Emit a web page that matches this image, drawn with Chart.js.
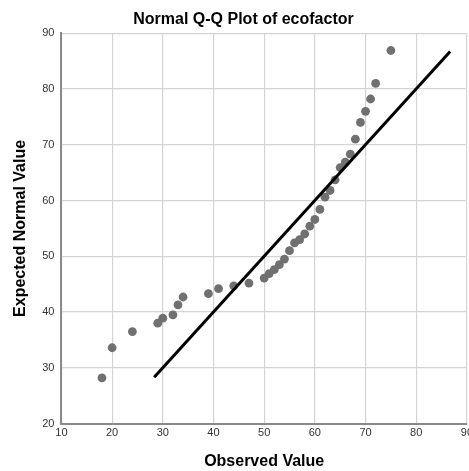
<!DOCTYPE html>
<html>
<head>
<meta charset="utf-8">
<script src="https://cdn.jsdelivr.net/npm/chart.js@4"></script>
<style>
  html, body { margin: 0; padding: 0; background: #fff; overflow: hidden; }
  #wrap { width: 476px; height: 471px; }
</style>
</head>
<body>
<div id="wrap"><canvas id="myChart" width="476" height="471"></canvas></div>
<script>
const observed = [18, 20, 24, 29, 30, 32, 33, 34, 39, 41, 44, 47, 50, 51, 52, 53, 54, 55,
  56, 57, 58, 59, 60, 61, 62, 63, 64, 65, 66, 67, 68, 69, 70, 71, 72, 75];
const expected = [28.2, 33.6, 36.5, 38.0, 38.9, 39.5, 41.3, 42.7, 43.3, 44.2, 44.7, 45.2,
  46.1, 46.9, 47.6, 48.5, 49.5, 51.0, 52.4, 53.0, 54.0, 55.4, 56.6, 58.4, 60.6, 61.8,
  63.7, 65.9, 66.9, 68.3, 71.0, 74.0, 76.0, 78.2, 81.0, 86.9];
// reference line y = x
const lineX = [28.3, 86.7];

const xTicks = [10, 20, 30, 40, 50, 60, 70, 80, 90];
const yTicks = [20, 30, 40, 50, 60, 70, 80, 90];

const points = observed.map((v, i) => ({ x: v, y: expected[i] }));
const line = lineX.map(v => ({ x: v, y: v }));

const ctx = document.getElementById('myChart').getContext('2d');

new Chart(ctx, {
  type: 'scatter',
  data: {
    datasets: [{
      data: points,
      backgroundColor: '#707070',
      borderColor: '#707070',
      pointRadius: 4.4,
      pointBorderWidth: 0,
      order: 2
    }, {
      type: 'line',
      data: line,
      borderColor: '#000000',
      borderWidth: 3,
      pointRadius: 0,
      fill: false,
      order: 1
    }]
  },
  options: {
    responsive: false,
    animation: false,
    layout: { padding: { left: 11, right: 0, top: 4, bottom: 0 } },
    plugins: {
      legend: { display: false },
      tooltip: { enabled: false },
      title: {
        display: true,
        text: 'Normal Q-Q Plot of ecofactor',
        color: '#000',
        font: { family: 'Liberation Sans, Arial', size: 16, weight: 'bold' },
        padding: { top: 6, bottom: 4 }
      }
    },
    scales: {
      x: {
        type: 'linear',
        min: 10,
        max: 90,
        afterBuildTicks: axis => { axis.ticks = xTicks.map(v => ({ value: v })); },
        ticks: {
          color: '#333',
          font: { family: 'Liberation Sans, Arial', size: 11 },
          padding: 3,
          maxRotation: 0
        },
        grid: { color: '#d4d4d4', lineWidth: 1.2, drawTicks: false },
        border: { color: '#8a8a8a', width: 2 },
        title: {
          display: true,
          text: 'Observed Value',
          color: '#000',
          font: { family: 'Liberation Sans, Arial', size: 16, weight: 'bold' },
          padding: { top: 9, bottom: 0 }
        }
      },
      y: {
        type: 'linear',
        min: 20,
        max: 90,
        afterBuildTicks: axis => { axis.ticks = yTicks.map(v => ({ value: v })); },
        ticks: {
          color: '#333',
          font: { family: 'Liberation Sans, Arial', size: 11 },
          padding: 7
        },
        grid: { color: '#d4d4d4', lineWidth: 1.2, drawTicks: false },
        border: { color: '#8a8a8a', width: 2 },
        title: {
          display: true,
          text: 'Expected Normal Value',
          color: '#000',
          font: { family: 'Liberation Sans, Arial', size: 16, weight: 'bold' },
          padding: { top: 0, bottom: 5 }
        }
      }
    }
  }
});
</script>
</body>
</html>
